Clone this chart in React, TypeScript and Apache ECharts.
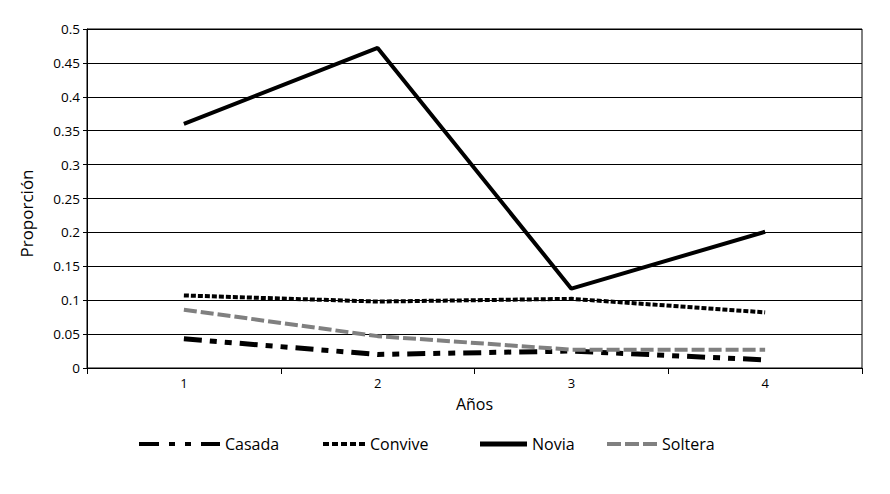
import React, { useEffect, useRef } from "react";
import * as echarts from "echarts";

const categories = ["1", "2", "3", "4"];
const casada = [0.043, 0.02, 0.025, 0.012];
const convive = [0.107, 0.098, 0.102, 0.082];
const novia = [0.36, 0.472, 0.117, 0.201];
const soltera = [0.086, 0.047, 0.027, 0.027];
const seriesNames = ["Casada", "Convive", "Novia", "Soltera"];

const FONT = "Open Sans";

const legendText = { fontFamily: FONT, fontSize: 16, color: "#000" };

function oneLegend(name: string, left: number, width: number, height: number, icon: string) {
  return {
    data: [{ name, icon }],
    left,
    top: 428,
    padding: 0,
    itemWidth: width,
    itemHeight: height,
    textStyle: legendText,
    selectedMode: false,
  };
}

export default function App() {
  const ref = useRef<HTMLDivElement>(null);
  useEffect(() => {
    if (!ref.current) return;
    const chart = echarts.init(ref.current, null, { renderer: "svg" });
    chart.setOption({
      animation: false,
      backgroundColor: "#fff",
      textStyle: { fontFamily: FONT, color: "#000" },
      grid: {
        left: 79,
        right: 20,
        top: 21,
        bottom: 118,
        show: true,
        borderColor: "#000",
        borderWidth: 1,
      },
      legend: [
        oneLegend(
          seriesNames[0],
          131,
          81,
          4,
          "path://M0,0h20v4h-20z M30,0h6v4h-6z M46,0h6v4h-6z M62,0h19v4h-19z"
        ),
        oneLegend(
          seriesNames[1],
          315,
          42,
          4,
          "path://M0,0h6v4h-6z M9,0h6v4h-6z M18,0h6v4h-6z M27,0h6v4h-6z M36,0h6v4h-6z"
        ),
        oneLegend(seriesNames[2], 472, 47, 5, "path://M0,0h47v5h-47z"),
        oneLegend(
          seriesNames[3],
          599,
          50,
          4,
          "path://M0,0h14v4h-14z M18,0h14v4h-14z M36,0h14v4h-14z"
        ),
      ],
      xAxis: {
        type: "category",
        data: categories,
        boundaryGap: true,
        name: "Años",
        nameLocation: "middle",
        nameGap: 28,
        nameTextStyle: { fontFamily: FONT, fontSize: 16, color: "#000" },
        axisLine: { lineStyle: { color: "#000", width: 1 } },
        axisTick: { show: true, length: 6, lineStyle: { color: "#000" } },
        axisLabel: { fontFamily: FONT, fontSize: 13, color: "#000", margin: 8 },
        splitLine: { show: false },
      },
      yAxis: {
        type: "value",
        min: 0,
        max: 0.5,
        interval: 0.05,
        name: "Proporción",
        nameLocation: "middle",
        nameGap: 52,
        nameTextStyle: {
          fontFamily: FONT,
          fontSize: 17,
          color: "#000",
          padding: [0, 30, 0, 0],
        },
        axisLine: { show: true, lineStyle: { color: "#000", width: 1 } },
        axisTick: { show: true, length: 4, lineStyle: { color: "#000" } },
        axisLabel: { fontFamily: FONT, fontSize: 13.5, color: "#000", margin: 7 },
        splitLine: { show: true, lineStyle: { color: "#000", width: 1 } },
      },
      series: [
        {
          name: seriesNames[0],
          type: "line",
          data: casada,
          symbol: "none",
          itemStyle: { color: "#000" },
          lineStyle: { color: "#000", width: 5, type: [18, 8, 7, 8, 7, 8], cap: "butt" },
        },
        {
          name: seriesNames[1],
          type: "line",
          data: convive,
          symbol: "none",
          itemStyle: { color: "#000" },
          lineStyle: { color: "#000", width: 4, type: [5, 2], cap: "butt" },
        },
        {
          name: seriesNames[2],
          type: "line",
          data: novia,
          symbol: "none",
          itemStyle: { color: "#000" },
          lineStyle: { color: "#000", width: 4, type: "solid" },
        },
        {
          name: seriesNames[3],
          type: "line",
          data: soltera,
          symbol: "none",
          itemStyle: { color: "#808080" },
          lineStyle: { color: "#808080", width: 4, type: [13, 4], cap: "butt" },
        },
      ],
    });
    return () => chart.dispose();
  }, []);
  return <div ref={ref} style={{ width: 874, height: 478 }} />;
}
